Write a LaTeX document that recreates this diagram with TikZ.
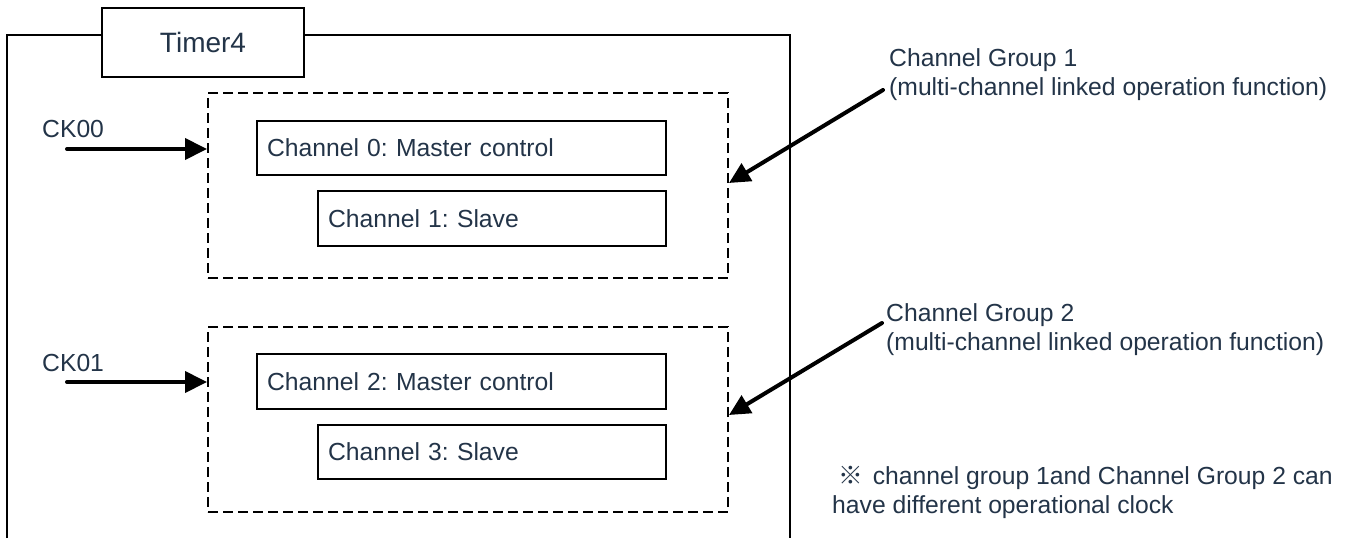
\documentclass[tikz,border=0pt]{standalone}
\usepackage{fontspec}
\setmainfont{Liberation Sans}
\newfontfamily\cjkfont{Noto Sans CJK SC}
\usetikzlibrary{arrows.meta}
\definecolor{txt}{RGB}{35,52,72}
\frenchspacing
\begin{document}
\begin{tikzpicture}[x=1pt,y=-1pt,
  every node/.style={text=txt, font=\fontsize{24.7}{29}\selectfont},
  chbox/.style={draw=black, line width=2pt, anchor=north west, inner xsep=10pt, inner ysep=0pt, align=left},
  grpbox/.style={draw=black, line width=2pt, dash pattern=on 10pt off 5pt, anchor=north west, inner sep=0pt, minimum width=520pt, minimum height=185pt},
  clkarrow/.style={line width=4pt, line cap=round, -{Triangle[length=22pt,width=21pt]}},
  grparrow/.style={line width=4pt, line cap=round, -{Triangle[length=21pt,width=20pt]}},
  label/.style={anchor=west, inner sep=0pt, align=left}
]
\useasboundingbox (0,0) rectangle (1346,538);

% outer Timer4 frame
\draw[line width=1.8pt] (7,538) -- (7,35) -- (790,35) -- (790,538);
\node[draw=black, fill=white, line width=2.4pt, minimum width=202pt, minimum height=69pt, inner sep=0pt,
      font=\fontsize{28}{32}\selectfont] (timer) at (203,42.5) {Timer4};

% channel groups
\node[grpbox] (g1) at (207,92) {};
\node[grpbox] (g2) at (207,326) {};

% channels
\node[chbox, text width=389pt, minimum height=54pt] (c0) at (256,120) {Channel 0: Master control};
\node[chbox, text width=328pt, minimum height=55pt] (c1) at (317,190) {Channel 1: Slave};
\node[chbox, text width=389pt, minimum height=55pt] (c2) at (256,353) {Channel 2: Master control};
\node[chbox, text width=328pt, minimum height=54pt] (c3) at (317,424) {Channel 3: Slave};

% clocks
\node[label] (ck00) at (42,129) {CK00};
\node[label] (ck01) at (42,363) {CK01};
\coordinate (s0) at (67,149);
\coordinate (s1) at (67,382);
\draw[clkarrow] (s0) -- (s0 -| g1.west);
\draw[clkarrow] (s1) -- (s1 -| g2.west);

% group labels
\node[label] (l1) at (889,74.5) {Channel Group 1\\(multi-channel linked operation function)};
\node[label] (l2) at (886,329.5) {Channel Group 2\\(multi-channel linked operation function)};
\coordinate (a1) at (883,90);
\coordinate (t1) at (729,183);
\coordinate (a2) at (882,323);
\coordinate (t2) at (729,415);
\draw[grparrow] (a1) -- (t1);
\draw[grparrow] (a2) -- (t2);

% note
\node[label] (note) at (832,492.5) {\hspace*{6pt}{\cjkfont ※}\hspace{3pt} channel group 1and Channel Group 2 can\\have different operational clock};
\end{tikzpicture}
\end{document}
